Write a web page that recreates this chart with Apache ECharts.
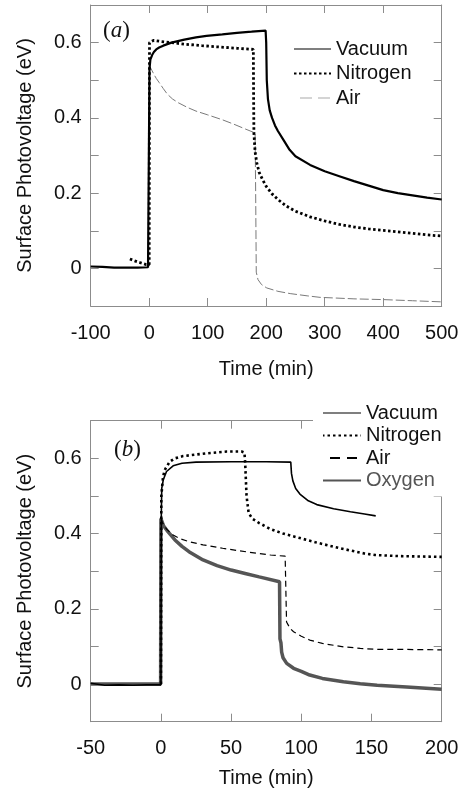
<!DOCTYPE html>
<html>
<head>
<meta charset="utf-8">
<script src="https://cdn.jsdelivr.net/npm/echarts@6/dist/echarts.min.js"></script>
<style>
html,body{margin:0;padding:0;background:#fff;}
#c{width:465px;height:797px;}
</style>
</head>
<body>
<div id="c"></div>
<script>
// ---------- Panel (a) data: [time (min), SPV (eV)] ----------
const vacuumA = [[-100,0.005],[-80,0.004],[-60,0.002],[-40,0.002],[-20,0.002],[-2,0.003],[0,0.003],[0.5,0.53],[2,0.555],[5,0.567],[8,0.575],[12,0.582],[17,0.587],[24,0.592],[38,0.6],[60,0.608],[80,0.614],[98,0.618],[125,0.622],[150,0.626],[175,0.629],[199,0.632],[200,0.60],[201,0.50],[203,0.45],[206,0.42],[210,0.40],[215,0.38],[220,0.365],[230,0.34],[240,0.315],[250,0.298],[275,0.275],[300,0.258],[325,0.245],[350,0.232],[375,0.22],[400,0.208],[425,0.2],[450,0.194],[475,0.188],[500,0.183]];
const nitrogenA = [[-33,0.025],[-25,0.02],[-15,0.015],[-5,0.01],[0,0.01],[0.5,0.6],[3,0.605],[8,0.606],[20,0.603],[38,0.6],[60,0.596],[90,0.592],[115,0.589],[150,0.585],[178,0.582],[178.5,0.45],[179,0.36],[181,0.31],[184,0.28],[188,0.255],[194,0.235],[200,0.218],[210,0.198],[220,0.183],[235,0.165],[250,0.152],[275,0.137],[300,0.126],[325,0.117],[350,0.11],[375,0.105],[400,0.101],[425,0.097],[450,0.093],[475,0.089],[500,0.086]];
const airA = [[0,0.54],[2,0.537],[5,0.525],[8,0.516],[12,0.505],[17,0.494],[24,0.478],[31,0.463],[40,0.45],[50,0.44],[65,0.428],[80,0.418],[100,0.408],[125,0.395],[145,0.383],[165,0.37],[181,0.36],[182,0.2],[183,-0.01],[186,-0.03],[192,-0.043],[201,-0.052],[220,-0.061],[241,-0.067],[270,-0.073],[292,-0.077],[350,-0.081],[400,-0.083],[450,-0.086],[500,-0.089]];

// ---------- Panel (b) data ----------
const vacuumB = [[-50,0.002],[-40,-0.003],[-30,-0.002],[-20,-0.003],[-10,-0.002],[0,-0.002],[0.3,0.45],[0.6,0.52],[1.7,0.543],[4,0.565],[8.7,0.58],[15,0.587],[25,0.59],[50,0.591],[75,0.591],[92.5,0.59],[93,0.56],[94,0.54],[96,0.52],[99,0.505],[105,0.487],[111,0.477],[123,0.466],[135,0.458],[145,0.452],[153,0.447]];
const nitrogenB = [[0,0.0],[0.3,0.5],[1.5,0.55],[2.7,0.569],[6.3,0.591],[10,0.6],[15.8,0.606],[25,0.61],[32,0.613],[47,0.618],[57.5,0.618],[59.5,0.615],[60,0.59],[61,0.5],[62.5,0.455],[65,0.44],[70,0.428],[78,0.412],[87,0.4],[99,0.388],[110,0.377],[123,0.365],[135,0.355],[145,0.347],[152.5,0.343],[170,0.34],[185,0.339],[200,0.338]];
const airB = [[0.2,0.44],[1,0.43],[4,0.412],[8.7,0.396],[14,0.386],[20.5,0.378],[30,0.37],[44,0.361],[56,0.354],[68,0.348],[78,0.343],[88.5,0.34],[89,0.25],[89.5,0.165],[92,0.148],[94.5,0.139],[100,0.127],[106,0.117],[115,0.108],[130,0.099],[142,0.095],[154,0.092],[175,0.092],[200,0.091]];
const oxygenB = [[-50,0.0],[-30,0.0],[-10,0.0],[-0.2,0.0],[0,0.44],[2,0.42],[5,0.405],[10,0.383],[15,0.366],[20,0.352],[30,0.33],[40,0.315],[50,0.303],[60,0.294],[70,0.285],[84.5,0.272],[84.8,0.12],[85.5,0.11],[86,0.085],[87,0.07],[89.6,0.055],[94.5,0.042],[100,0.034],[106,0.024],[115,0.015],[130,0.006],[142,0.001],[154,-0.003],[175,-0.008],[200,-0.014]];

// ---------- axes / labels ----------
const xRangeA = [-100, 500, 100];
const xRangeB = [-50, 200, 50];
const yRange = [-0.1, 0.7, 0.1];
const yTickLabels = ['0', '0.2', '0.4', '0.6'];
const seriesNames = ['Vacuum', 'Nitrogen', 'Air', 'Oxygen'];
const xTitle = 'Time (min)';
const yTitle = 'Surface Photovoltage (eV)';
const panelLabels = ['a', 'b'];

const FONT = 'Liberation Sans, Arial, sans-serif';
const SERIF = 'Liberation Serif, Times New Roman, serif';
const FRAME = '#8c8c8c';
const TXT = '#111';

function xAx(grid, r, pos, showLab, gap) {
  return {
    type: 'value', gridIndex: grid, position: pos, min: r[0], max: r[1], interval: r[2],
    axisLine: {show: true, onZero: false, lineStyle: {color: FRAME, width: 1}},
    axisTick: {show: true, inside: true, length: 8, lineStyle: {color: FRAME}},
    axisLabel: {show: showLab, margin: 17, fontSize: 20, color: TXT, fontFamily: FONT},
    splitLine: {show: false},
    name: showLab ? xTitle : '', nameLocation: 'middle', nameGap: gap,
    nameTextStyle: {fontSize: 20, color: TXT, fontFamily: FONT}
  };
}
function yAx(grid, pos, showLab) {
  return {
    type: 'value', gridIndex: grid, position: pos, min: yRange[0], max: yRange[1], interval: yRange[2],
    axisLine: {show: true, onZero: false, lineStyle: {color: FRAME, width: 1}},
    axisTick: {show: true, inside: true, length: 8, lineStyle: {color: FRAME}},
    axisLabel: {show: showLab, margin: 9, fontSize: 20, color: TXT, fontFamily: FONT,
      formatter: v => { const s = String(Math.round(v * 10) / 10); return yTickLabels.includes(s) ? s : ''; }},
    splitLine: {show: false},
    name: showLab ? yTitle : '', nameLocation: 'middle', nameGap: 55, nameRotate: 90,
    nameTextStyle: {fontSize: 20, color: TXT, fontFamily: FONT}
  };
}
function line(name, data, xi, yi, color, width, type, z) {
  return {
    type: 'line', name: name, data: data, xAxisIndex: xi, yAxisIndex: yi,
    symbol: 'none', showSymbol: false, animation: false, z: z || 2,
    lineStyle: {color: color, width: width, type: type}, itemStyle: {color: color}
  };
}
function panelLabel(txt, left, top) {
  return {type: 'text', left: left, top: top, z: 20, style: {
    text: '{p|(}{i|' + txt + '}{p|)}',
    rich: {p: {fontFamily: SERIF, fontSize: 23, fill: TXT},
           i: {fontFamily: SERIF, fontStyle: 'italic', fontSize: 23, fill: TXT}}
  }};
}
const sfx = ' (b)';
const chart = echarts.init(document.getElementById('c'));
chart.setOption({
  backgroundColor: '#fff',
  animation: false,
  grid: [
    {left: 90.7, top: 5, width: 351, height: 301},
    {left: 90.7, top: 420.7, width: 351, height: 301}
  ],
  xAxis: [
    xAx(0, xRangeA, 'bottom', true, 53),
    xAx(0, xRangeA, 'top', false, 0),
    xAx(1, xRangeB, 'bottom', true, 47),
    xAx(1, xRangeB, 'top', false, 0)
  ],
  yAxis: [yAx(0, 'left', true), yAx(0, 'right', false), yAx(1, 'left', true), yAx(1, 'right', false)],
  legend: [
    {
      left: 288, top: 34, orient: 'vertical', itemWidth: 37, itemHeight: 14, itemGap: 4.5,
      itemStyle: {opacity: 0}, selectedMode: false,
      textStyle: {fontSize: 20, color: TXT, fontFamily: FONT},
      data: [
        {name: seriesNames[0], lineStyle: {width: 1.2}},
        {name: seriesNames[1]},
        {name: seriesNames[2], lineStyle: {color: '#aaa', width: 1.2, type: [12, 6], dashOffset: 12}}
      ]
    },
    {
      left: 313, top: 396, orient: 'vertical', itemWidth: 38, itemHeight: 14, itemGap: 2.5,
      padding: [7, 30, 6, 9], backgroundColor: '#fff', selectedMode: false, z: 10,
      itemStyle: {opacity: 0},
      textStyle: {fontSize: 20, color: TXT, fontFamily: FONT},
      formatter: n => n.replace(sfx, ''),
      data: [
        {name: seriesNames[0] + sfx, lineStyle: {width: 1.2}},
        {name: seriesNames[1] + sfx},
        {name: seriesNames[2] + sfx, lineStyle: {type: [10, 7], dashOffset: 10}},
        {name: seriesNames[3] + sfx, textStyle: {color: '#555'}}
      ]
    }
  ],
  graphic: [panelLabel(panelLabels[0], 103, 19), panelLabel(panelLabels[1], 114, 438)],
  series: [
    line(seriesNames[2], airA, 0, 0, '#7a7a7a', 1, [9, 3], 2),
    line(seriesNames[0], vacuumA, 0, 0, '#000', 2.2, 'solid', 3),
    line(seriesNames[1], nitrogenA, 0, 0, '#000', 2.8, [2.5, 2.5], 4),
    line(seriesNames[3] + sfx, oxygenB, 2, 2, '#555', 3.5, 'solid', 2),
    line(seriesNames[2] + sfx, airB, 2, 2, '#000', 1.2, [6, 4], 3),
    line(seriesNames[1] + sfx, nitrogenB, 2, 2, '#000', 2.6, [2.5, 3], 4),
    line(seriesNames[0] + sfx, vacuumB, 2, 2, '#000', 1.6, 'solid', 5)
  ]
});
</script>
</body>
</html>
